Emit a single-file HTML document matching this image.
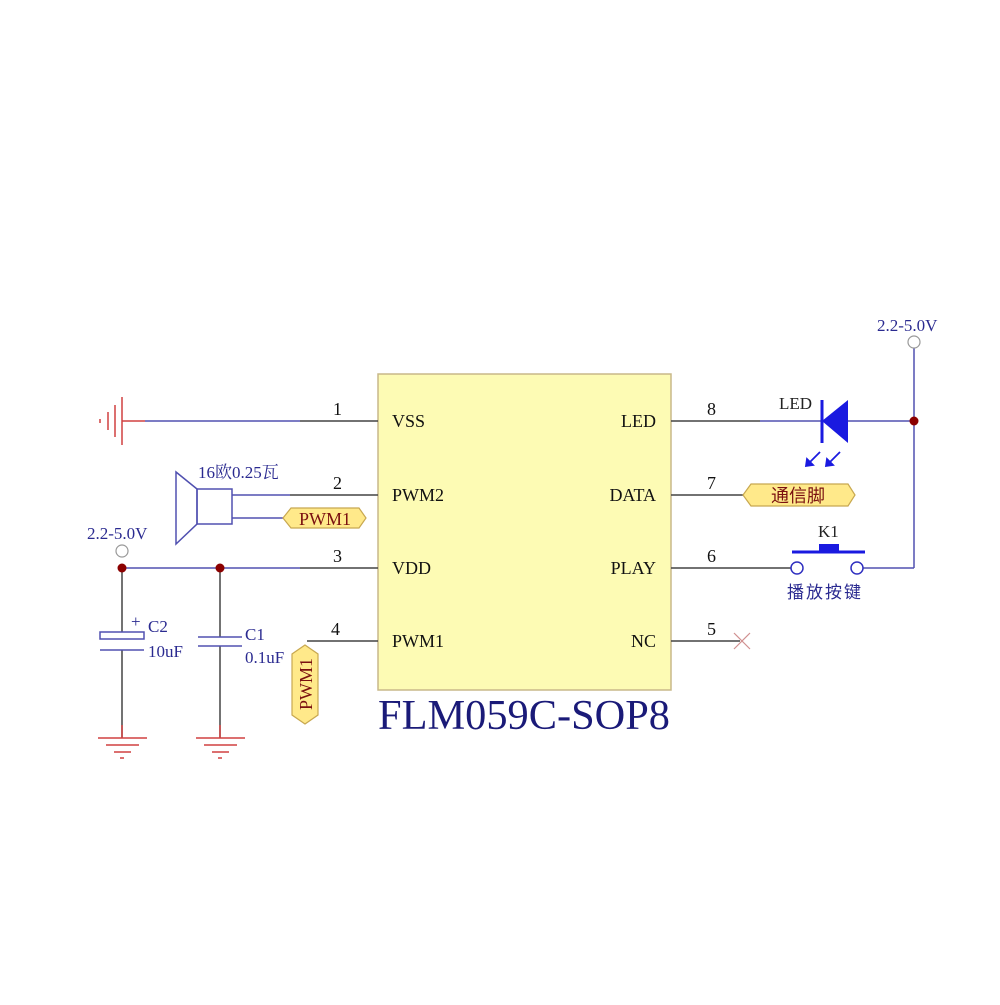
<!DOCTYPE html>
<html><head><meta charset="utf-8"><style>html,body{margin:0;padding:0;background:#fff}</style></head>
<body>
<svg width="1000" height="1000" viewBox="0 0 1000 1000" xmlns="http://www.w3.org/2000/svg" font-family="'Liberation Serif','Noto Serif CJK SC',serif">
<rect x="0" y="0" width="1000" height="1000" fill="#fff"/>
<rect x="378" y="374" width="293" height="316" fill="#fdfbb4" stroke="#c8b88a" stroke-width="1.5"/>
<g font-size="18" fill="#111">
<text x="392" y="427">VSS</text>
<text x="392" y="501">PWM2</text>
<text x="392" y="574">VDD</text>
<text x="392" y="647">PWM1</text>
<text x="656" y="427" text-anchor="end">LED</text>
<text x="656" y="501" text-anchor="end">DATA</text>
<text x="656" y="574" text-anchor="end">PLAY</text>
<text x="656" y="647" text-anchor="end">NC</text>
<text x="333" y="415">1</text><text x="333" y="489">2</text><text x="333" y="562">3</text><text x="331" y="635">4</text>
<text x="707" y="415">8</text><text x="707" y="489">7</text><text x="707" y="562">6</text><text x="707" y="635">5</text>
</g>
<text x="378" y="729" font-size="42" fill="#1a1a78" textLength="292" lengthAdjust="spacingAndGlyphs">FLM059C-SOP8</text>
<g stroke="#444" stroke-width="1.5" fill="none">
<line x1="300" y1="421" x2="378" y2="421"/>
<line x1="290" y1="495" x2="378" y2="495"/>
<line x1="300" y1="568" x2="378" y2="568"/>
<line x1="307" y1="641" x2="378" y2="641"/>
<line x1="671" y1="421" x2="760" y2="421"/>
<line x1="671" y1="495" x2="743" y2="495"/>
<line x1="671" y1="568" x2="791" y2="568"/>
<line x1="671" y1="641" x2="740" y2="641"/>
<line x1="122" y1="568" x2="122" y2="632"/><line x1="122" y1="650" x2="122" y2="738"/>
<line x1="220" y1="568" x2="220" y2="637"/><line x1="220" y1="646" x2="220" y2="738"/>
</g>
<g stroke="#5050b0" stroke-width="1.5" fill="none">
<line x1="145" y1="421" x2="300" y2="421"/>
<line x1="232" y1="495" x2="290" y2="495"/>
<line x1="232" y1="518" x2="283" y2="518"/>
<line x1="122" y1="568" x2="300" y2="568"/>
<line x1="760" y1="421" x2="914" y2="421"/>
<line x1="914" y1="348" x2="914" y2="568"/>
<line x1="863" y1="568" x2="914" y2="568"/>
<rect x="197" y="489" width="35" height="35"/>
<polygon points="197,489 176,472 176,544 197,524"/>
<rect x="100" y="632" width="44" height="7"/>
<line x1="100" y1="650" x2="144" y2="650"/>
<line x1="198" y1="637" x2="242" y2="637"/>
<line x1="198" y1="646" x2="242" y2="646"/>
</g>
<g stroke="#d04040" stroke-width="1.5">
<line x1="122" y1="421" x2="145" y2="421"/>
<line x1="122" y1="397" x2="122" y2="445"/>
<line x1="115" y1="405" x2="115" y2="437"/>
<line x1="108" y1="412" x2="108" y2="430"/>
<line x1="100" y1="419" x2="100" y2="423"/>
<line x1="122" y1="725" x2="122" y2="738"/><line x1="220" y1="725" x2="220" y2="738"/>
<line x1="98" y1="738" x2="147" y2="738"/><line x1="106" y1="745" x2="139" y2="745"/><line x1="114" y1="752" x2="131" y2="752"/><line x1="120" y1="758" x2="124" y2="758"/>
<line x1="196" y1="738" x2="245" y2="738"/><line x1="204" y1="745" x2="237" y2="745"/><line x1="212" y1="752" x2="229" y2="752"/><line x1="218" y1="758" x2="222" y2="758"/>
</g>
<g stroke="#d09090" stroke-width="1.2"><line x1="734" y1="633" x2="750" y2="649"/><line x1="734" y1="649" x2="750" y2="633"/></g>
<circle cx="122" cy="551" r="6" fill="#fff" stroke="#999" stroke-width="1.2"/>
<circle cx="914" cy="342" r="6" fill="#fff" stroke="#999" stroke-width="1.2"/>
<circle cx="122" cy="568" r="4.5" fill="#8b0000"/>
<circle cx="220" cy="568" r="4.5" fill="#8b0000"/>
<circle cx="914" cy="421" r="4.5" fill="#8b0000"/>
<polygon points="822,421 848,400 848,443" fill="#1a1ae0"/>
<line x1="822" y1="400" x2="822" y2="443" stroke="#1a1ae0" stroke-width="3"/>
<g stroke="#1a1ae0" stroke-width="1.8" fill="#1a1ae0">
<line x1="820" y1="452" x2="808" y2="464"/><polygon points="806,466 807,459 813,465"/>
<line x1="840" y1="452" x2="828" y2="464"/><polygon points="826,466 827,459 833,465"/>
</g>
<circle cx="797" cy="568" r="6" fill="#fff" stroke="#3030c0" stroke-width="1.5"/>
<circle cx="857" cy="568" r="6" fill="#fff" stroke="#3030c0" stroke-width="1.5"/>
<line x1="792" y1="552" x2="865" y2="552" stroke="#1a1ae0" stroke-width="3"/>
<rect x="819" y="544" width="20" height="8" fill="#1a1ae0"/>
<polygon points="283,518 291,508 359,508 366,518 359,528 291,528" fill="#ffe98a" stroke="#c8a850" stroke-width="1.2"/>
<text x="325" y="525" font-size="18" fill="#7a1010" text-anchor="middle">PWM1</text>
<polygon points="743,495 751,484 848,484 855,495 848,506 751,506" fill="#ffe98a" stroke="#c8a850" stroke-width="1.2"/>
<text x="798" y="502" font-size="18" fill="#7a1010" text-anchor="middle" font-family="'Noto Sans CJK SC',sans-serif">通信脚</text>
<polygon points="305,645 318,654 318,715 305,724 292,715 292,654" fill="#ffe98a" stroke="#c8a850" stroke-width="1.2"/>
<text transform="translate(312,684) rotate(-90)" font-size="18" fill="#7a1010" text-anchor="middle">PWM1</text>
<g fill="#2a2a90" font-size="17">
<text x="198" y="478">16欧0.25瓦</text>
<text x="87" y="539">2.2-5.0V</text>
<text x="877" y="331">2.2-5.0V</text>
<text x="131" y="627">+</text>
<text x="148" y="632">C2</text>
<text x="148" y="657">10uF</text>
<text x="245" y="640">C1</text>
<text x="245" y="663">0.1uF</text>
<text x="779" y="409" fill="#222">LED</text>
<text x="818" y="537" fill="#222">K1</text>
<text x="787" y="598" font-family="'Noto Sans CJK SC',sans-serif" letter-spacing="2">播放按键</text>
</g>
</svg>
</body></html>
